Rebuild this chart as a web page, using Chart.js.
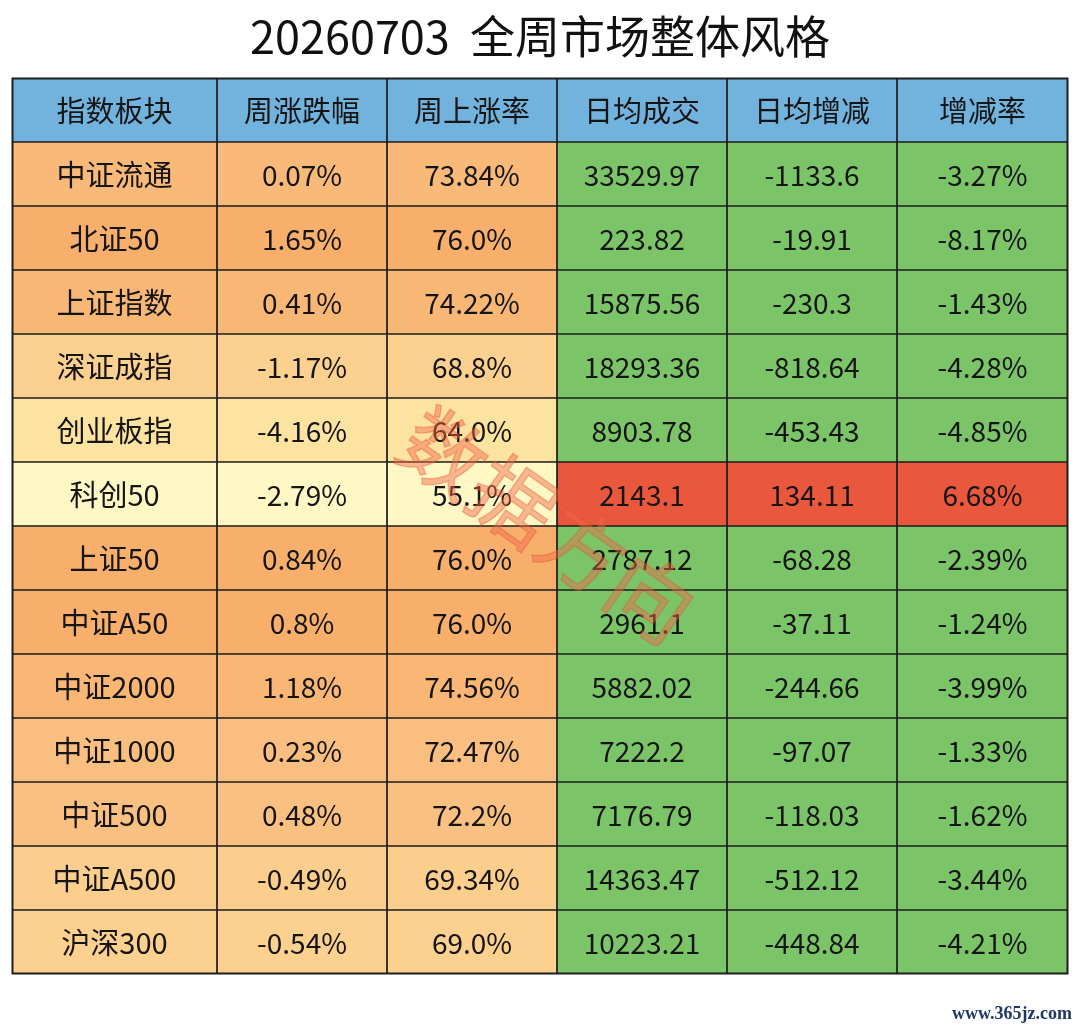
<!DOCTYPE html>
<html>
<head>
<meta charset="utf-8">
<script src="https://cdn.jsdelivr.net/npm/chart.js@4.4.1/dist/chart.umd.min.js"></script>
<style>
html,body{margin:0;padding:0;background:#fff;}
#wrap{width:1080px;height:1029px;position:relative;}
</style>
</head>
<body>
<div id="wrap"><canvas id="c" width="1080" height="1029"></canvas></div>
<script>
// ---- data ----
const titleText = '20260703  全周市场整体风格';
const headers = ['指数板块','周涨跌幅','周上涨率','日均成交','日均增减','增减率'];
const indexNames = ['中证流通','北证50','上证指数','深证成指','创业板指','科创50','上证50','中证A50','中证2000','中证1000','中证500','中证A500','沪深300'];
const weeklyChange = ['0.07%','1.65%','0.41%','-1.17%','-4.16%','-2.79%','0.84%','0.8%','1.18%','0.23%','0.48%','-0.49%','-0.54%'];
const weeklyUpRate = ['73.84%','76.0%','74.22%','68.8%','64.0%','55.1%','76.0%','76.0%','74.56%','72.47%','72.2%','69.34%','69.0%'];
const dailyTurnover = ['33529.97','223.82','15875.56','18293.36','8903.78','2143.1','2787.12','2961.1','5882.02','7222.2','7176.79','14363.47','10223.21'];
const dailyDelta = ['-1133.6','-19.91','-230.3','-818.64','-453.43','134.11','-68.28','-37.11','-244.66','-97.07','-118.03','-512.12','-448.84'];
const deltaRate = ['-3.27%','-8.17%','-1.43%','-4.28%','-4.85%','6.68%','-2.39%','-1.24%','-3.99%','-1.33%','-1.62%','-3.44%','-4.21%'];

// ---- layout / style ----
const colWeights = [205,170,170,170,170,171];
const headerColor = '#72b3de';
const greenColor = '#7bc468';
const redColor = '#e9573c';
const gridColor = '#1e1e1e';

function warmColor(rateStr){
  const v = parseFloat(rateStr);
  const stops = [
    [55, [255,247,196]],
    [64, [253,227,160]],
    [69, [252,208,143]],
    [72.3,[250,192,129]],
    [76, [248,175,108]]
  ];
  if (v <= stops[0][0]) return 'rgb('+stops[0][1].join(',')+')';
  for (let i=1;i<stops.length;i++){
    if (v <= stops[i][0]){
      const t=(v-stops[i-1][0])/(stops[i][0]-stops[i-1][0]);
      const a=stops[i-1][1], b=stops[i][1];
      return 'rgb('+a.map((x,k)=>Math.round(x+(b[k]-x)*t)).join(',')+')';
    }
  }
  return 'rgb('+stops[stops.length-1][1].join(',')+')';
}

const rowLabels = ['header'].concat(indexNames);
const columns = [indexNames, weeklyChange, weeklyUpRate, dailyTurnover, dailyDelta, deltaRate];

function cellColor(col,row){
  if (row===0) return headerColor;
  const r=row-1;
  if (col<3) return warmColor(weeklyUpRate[r]);
  return parseFloat(dailyDelta[r])>0 ? redColor : greenColor;
}

const datasets = colWeights.map((w,ci)=>({
  label: headers[ci],
  data: rowLabels.map(()=>w),
  backgroundColor: rowLabels.map((_,ri)=>cellColor(ci,ri)),
  borderColor: gridColor,
  borderWidth: 1.2,
  borderSkipped: false,
  barPercentage: 1,
  categoryPercentage: 1
}));

const textPlugin = {
  id:'cellText',
  afterDatasetsDraw(chart){
    const ctx=chart.ctx, xs=chart.scales.x, ys=chart.scales.y;
    ctx.save();
    ctx.textAlign='center';
    ctx.textBaseline='middle';
    ctx.fillStyle='#151515';
    let acc=0;
    colWeights.forEach((w,ci)=>{
      const cx = xs.getPixelForValue(acc + w/2);
      acc += w;
      rowLabels.forEach((_,ri)=>{
        const cy = ys.getPixelForValue(ri);
        let txt, font;
        if (ri===0){ txt=headers[ci]; font='29px "Noto Sans CJK SC"'; }
        else { txt=columns[ci][ri-1]; font = ci===0 ? '29px "Noto Sans CJK SC"' : '28px "Noto Sans CJK SC"'; }
        ctx.font=font;
        ctx.fillText(txt, cx, cy+1);
      });
    });
    // outer border
    const a=chart.chartArea;
    ctx.strokeStyle=gridColor; ctx.lineWidth=2;
    ctx.strokeRect(a.left+0.5,a.top+0.5,a.right-a.left-1,a.bottom-a.top-1);
    // watermark
    ctx.save();
    ctx.translate(548,525);
    ctx.rotate(35*Math.PI/180);
    ctx.font='84px "Noto Sans CJK SC"';
    ctx.fillStyle='rgba(240,105,75,0.45)';
    ctx.fillText('数据方向',0,0);
    ctx.strokeStyle='rgba(225,80,50,0.35)';
    ctx.lineWidth=1.5;
    ctx.strokeText('数据方向',0,0);
    ctx.restore();
    // footer
    ctx.font='bold 18px "Liberation Serif"';
    ctx.fillStyle='#1f3868';
    ctx.textAlign='right';
    ctx.fillText('www.365jz.com',1072,1014);
    ctx.restore();
  }
};

new Chart(document.getElementById('c'),{
  type:'bar',
  data:{labels:rowLabels, datasets},
  options:{
    indexAxis:'y',
    responsive:false,
    animation:false,
    layout:{padding:{left:12,right:12,bottom:55,top:0}},
    scales:{
      x:{display:false, stacked:true, min:0, max:colWeights.reduce((a,b)=>a+b,0)},
      y:{display:false, stacked:true}
    },
    plugins:{
      legend:{display:false},
      tooltip:{enabled:false},
      title:{display:true, text:titleText, color:'#111', font:{family:'"Noto Sans CJK SC"', size:45, weight:'normal'}, padding:{top:10,bottom:14}}
    }
  },
  plugins:[textPlugin]
});
</script>
</body>
</html>
